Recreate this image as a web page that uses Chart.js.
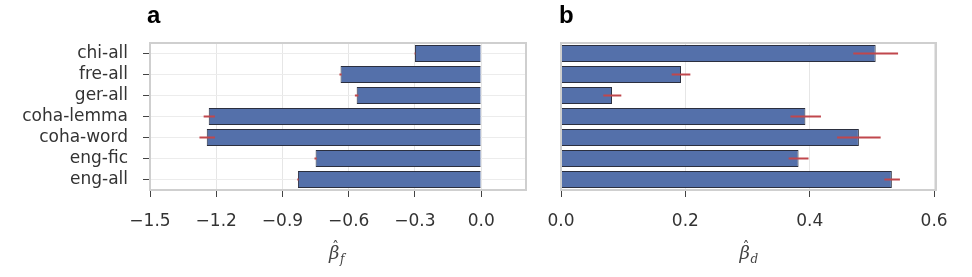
<!DOCTYPE html>
<html>
<head>
<meta charset="utf-8">
<script src="https://cdn.jsdelivr.net/npm/chart.js@4/dist/chart.umd.min.js"></script>
<style>
  html, body { margin: 0; padding: 0; background: #fff; }
  #wrap { position: relative; width: 972px; height: 277px; overflow: hidden; }
  .panel { position: absolute; top: 0; height: 277px; }
  #pa { left: 0; width: 540px; }
  #pb { left: 540px; width: 432px; }
  .tag { position: absolute; top: 1px; font: bold 24px "Liberation Sans", Arial, sans-serif; color: #000; }
</style>
</head>
<body>
<div id="wrap">
  <div class="panel" id="pa"><canvas id="chartA" width="540" height="277"></canvas></div>
  <div class="panel" id="pb"><canvas id="chartB" width="432" height="277"></canvas></div>
  <div class="tag" style="left:147px">a</div>
  <div class="tag" style="left:559px">b</div>
</div>
<script>
const labels = ['chi-all', 'fre-all', 'ger-all', 'coha-lemma', 'coha-word', 'eng-fic', 'eng-all'];

// panel a : frequency coefficient
const betaF = [-0.300, -0.637, -0.564, -1.234, -1.243, -0.750, -0.830];
const betaFLo = [-0.302, -0.642, -0.572, -1.257, -1.276, -0.755, -0.833];
const betaFHi = [-0.298, -0.632, -0.556, -1.206, -1.206, -0.745, -0.827];
const ticksF = [-1.5, -1.2, -0.9, -0.6, -0.3, 0.0];

// panel b : dissemination coefficient
const betaD = [0.506, 0.193, 0.082, 0.393, 0.479, 0.382, 0.532];
const betaDLo = [0.470, 0.178, 0.068, 0.369, 0.444, 0.366, 0.520];
const betaDHi = [0.542, 0.208, 0.097, 0.418, 0.514, 0.398, 0.545];
const ticksD = [0.0, 0.2, 0.4, 0.6];

const barColor = '#5470aa';
const edgeColor = '#2b2f3f';
const errColor = '#c0474c';
const frameColor = '#cfcfcf';
const textColor = '#333333';
const fontFam = '"DejaVu Sans", sans-serif';

// frame around the plot area
const framePlugin = {
  id: 'frame',
  afterDraw(chart) {
    const a = chart.chartArea;
    const ctx = chart.ctx;
    ctx.save();
    ctx.strokeStyle = frameColor;
    ctx.lineWidth = 2;
    ctx.strokeRect(a.left, a.top, a.right - a.left, a.bottom - a.top);
    ctx.restore();
  }
};

// red error bars on top of the bars
const errorPlugin = {
  id: 'errbars',
  afterDatasetsDraw(chart, args, opts) {
    const ctx = chart.ctx;
    const xs = chart.scales.x, ys = chart.scales.y;
    ctx.save();
    ctx.strokeStyle = errColor;
    ctx.lineWidth = 2;
    opts.lo.forEach((lo, i) => {
      const y = ys.getPixelForValue(i);
      ctx.beginPath();
      ctx.moveTo(xs.getPixelForValue(lo), y);
      ctx.lineTo(xs.getPixelForValue(opts.hi[i]), y);
      ctx.stroke();
    });
    ctx.restore();
  }
};

// beta-hat axis label with subscript
const betaTitlePlugin = {
  id: 'betaTitle',
  afterDraw(chart, args, opts) {
    const ctx = chart.ctx;
    const a = chart.chartArea;
    const cx = (a.left + a.right) / 2 - 4;
    const y = 259;
    ctx.save();
    ctx.fillStyle = '#444';
    ctx.textBaseline = 'alphabetic';
    ctx.font = 'italic 18px "DejaVu Serif", serif';
    ctx.fillText('β', cx - 5, y);
    ctx.font = '14px "DejaVu Serif", serif';
    ctx.fillText('ˆ', cx - 2, y - 7);
    ctx.font = 'italic 12px "DejaVu Serif", serif';
    ctx.fillText(opts.sub, cx + 6, y + 4);
    ctx.restore();
  }
};

function fmt(v) {
  return v.toFixed(1).replace('-', '\u2212');
}

// fixed height for the value axis, no extra side padding for end labels
function fitX(s) {
  s.height = 87;
  s.paddingLeft = 0;
  s.paddingRight = 0;
}

const ctxA = document.getElementById('chartA').getContext('2d');
const configA = {
  type: 'bar',
  data: {
    labels: labels,
    datasets: [{
      data: betaF,
      backgroundColor: barColor,
      borderColor: edgeColor,
      borderWidth: 1,
      barPercentage: 0.8,
      categoryPercentage: 1.0
    }]
  },
  options: {
    indexAxis: 'y',
    responsive: false,
    animation: false,
    layout: { padding: { top: 43, right: 14, left: 0, bottom: 0 } },
    plugins: {
      legend: { display: false },
      tooltip: { enabled: false },
      errbars: { lo: betaFLo, hi: betaFHi },
      betaTitle: { sub: 'f' }
    },
    scales: {
      x: {
        min: -1.5,
        max: 0.203,
        afterBuildTicks: (s) => { s.ticks = ticksF.map(v => ({ value: v })); },
        afterFit: fitX,
        grid: { color: '#e6e6e6', tickColor: '#444', tickLength: 7 },
        border: { display: false },
        ticks: { color: textColor, font: { family: fontFam, size: 17 }, padding: 14, maxRotation: 0,
                 callback: (v) => fmt(v) }
      },
      y: {
        afterFit: (s) => { s.width = 150; },
        grid: { offset: false, color: '#ececec', tickColor: '#444', tickLength: 7 },
        border: { display: false },
        ticks: { color: textColor, font: { family: fontFam, size: 17 }, padding: 15, autoSkip: false }
      }
    }
  },
  plugins: [framePlugin, errorPlugin, betaTitlePlugin]
};
const chartA = new Chart(ctxA, configA);

const ctxB = document.getElementById('chartB').getContext('2d');
const configB = {
  type: 'bar',
  data: {
    labels: labels,
    datasets: [{
      data: betaD,
      backgroundColor: barColor,
      borderColor: edgeColor,
      borderWidth: 1,
      barPercentage: 0.8,
      categoryPercentage: 1.0
    }]
  },
  options: {
    indexAxis: 'y',
    responsive: false,
    animation: false,
    layout: { padding: { top: 43, right: 36, left: 0, bottom: 0 } },
    plugins: {
      legend: { display: false },
      tooltip: { enabled: false },
      errbars: { lo: betaDLo, hi: betaDHi },
      betaTitle: { sub: 'd' }
    },
    scales: {
      x: {
        min: 0,
        max: 0.603,
        afterBuildTicks: (s) => { s.ticks = ticksD.map(v => ({ value: v })); },
        afterFit: fitX,
        grid: { color: '#e6e6e6', tickColor: '#444', tickLength: 7 },
        border: { display: false },
        ticks: { color: textColor, font: { family: fontFam, size: 17 }, padding: 14, maxRotation: 0,
                 callback: (v) => fmt(v) }
      },
      y: {
        afterFit: (s) => { s.width = 21; },
        grid: { display: false },
        border: { display: false },
        ticks: { display: false }
      }
    }
  },
  plugins: [framePlugin, errorPlugin, betaTitlePlugin]
};
const chartB = new Chart(ctxB, configB);
</script>
</body>
</html>
